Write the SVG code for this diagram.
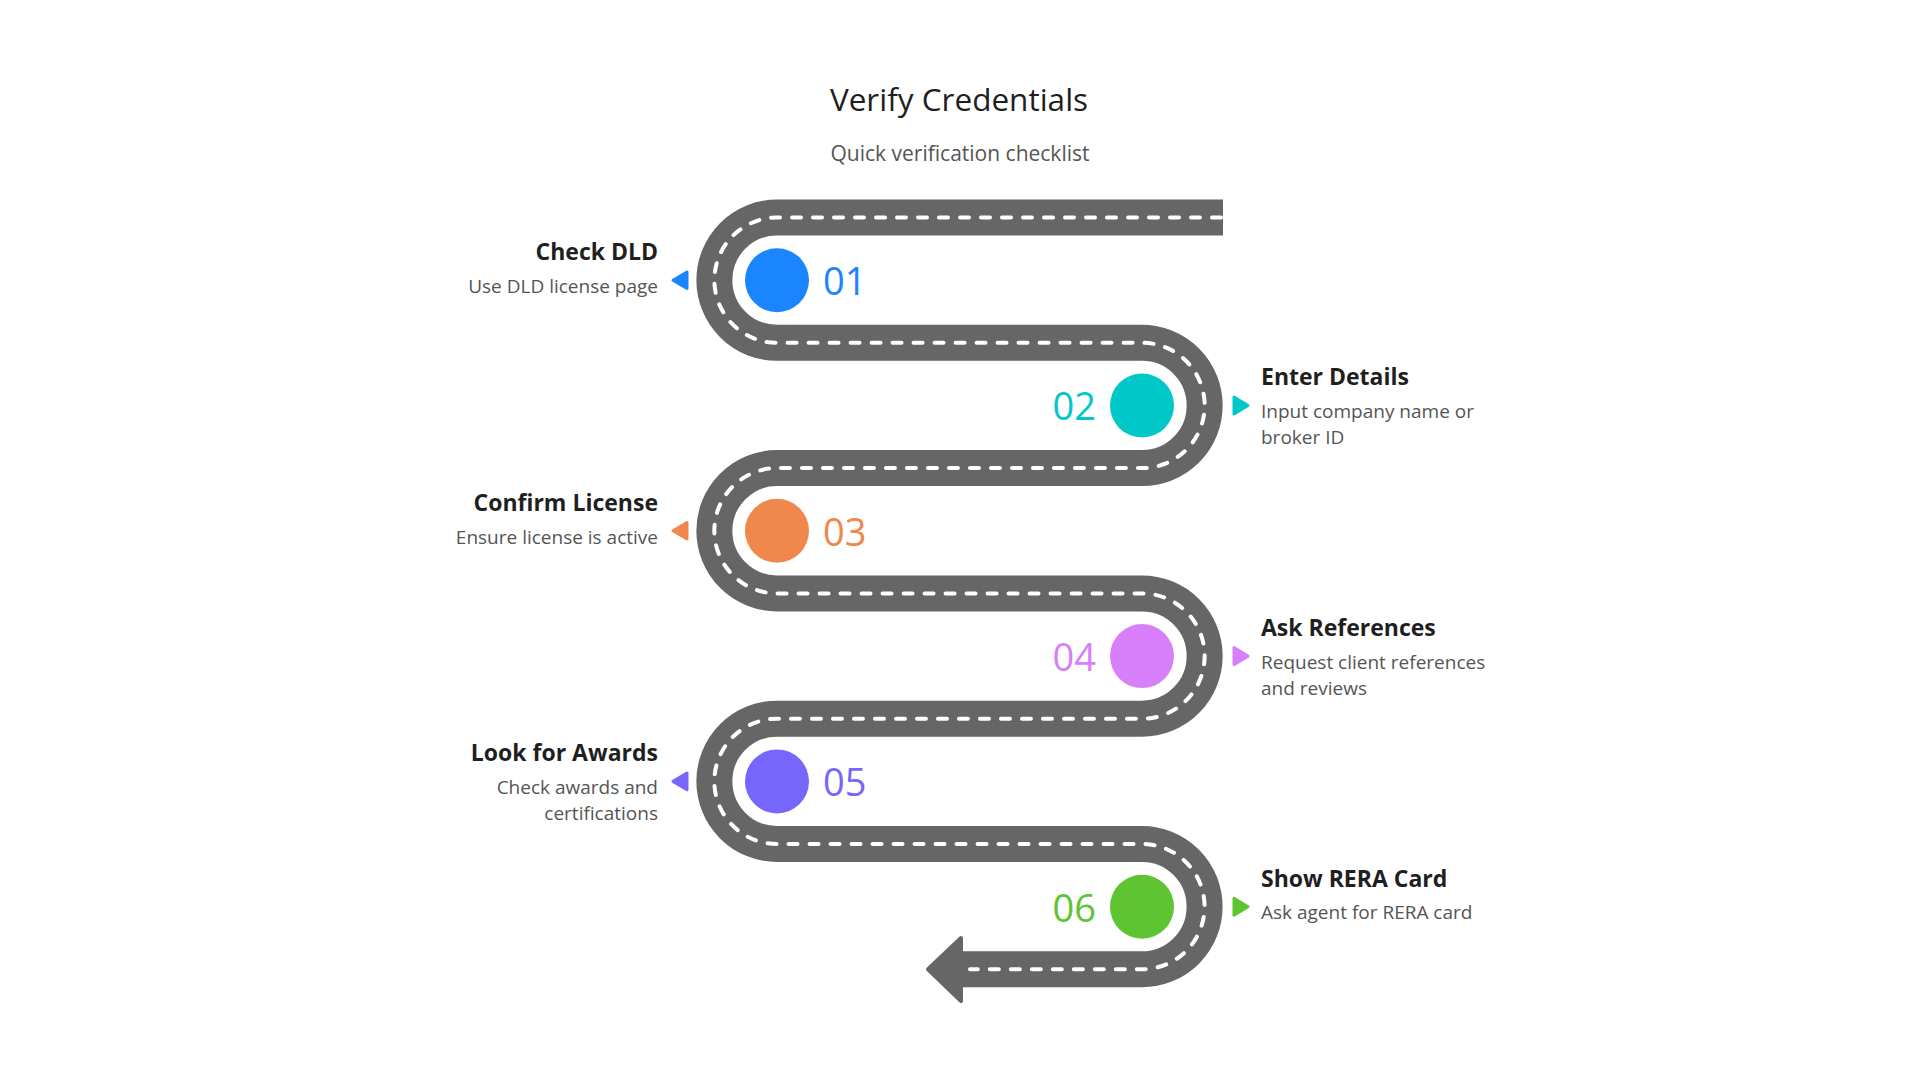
<svg xmlns="http://www.w3.org/2000/svg" width="1920" height="1080" viewBox="0 0 1920 1080">
<style>
text{font-family:"Open Sans","Noto Sans",sans-serif}
.title{font-size:31.5px;fill:#1f1f1f;text-anchor:middle}
.sub{font-size:21px;fill:#555;text-anchor:middle}
.h{font-size:23px;font-weight:700;fill:#1f1f1f}
.d{font-size:19px;fill:#555}
.num{font-size:38px}
.l{text-anchor:end}
.r{text-anchor:start}
.road{fill:none;stroke:#666;stroke-width:36}
.dash{fill:none;stroke:#fff;stroke-width:4;stroke-dasharray:9 12;stroke-linecap:round}
.tri{stroke-width:3;stroke-linejoin:round}
</style>
<rect width="1920" height="1080" fill="#fff"/>
<text class="title" x="959" y="111">Verify Credentials</text>
<text class="sub" x="960" y="161">Quick verification checklist</text>
<g id="road">
<path class="road" d="M 1223 217.5 H 777 A 62.65 62.65 0 0 0 777 342.8 H 1142 A 62.65 62.65 0 0 1 1142 468.1 H 777 A 62.65 62.65 0 0 0 777 593.4 H 1142 A 62.65 62.65 0 0 1 1142 718.7 H 777 A 62.65 62.65 0 0 0 777 844 H 1142 A 62.65 62.65 0 0 1 1142 969.3 H 960"/>
<path d="M 961 938 L 928 969.3 L 961 1001 Z" fill="#666" stroke="#666" stroke-width="4" stroke-linejoin="round"/>
<path class="dash" d="M 1221 217.5 H 777 A 62.65 62.65 0 0 0 777 342.8 H 1142 A 62.65 62.65 0 0 1 1142 468.1 H 777 A 62.65 62.65 0 0 0 777 593.4 H 1142 A 62.65 62.65 0 0 1 1142 718.7 H 777 A 62.65 62.65 0 0 0 777 844 H 1142 A 62.65 62.65 0 0 1 1142 969.3 H 970"/>
</g>
<g id="step1">
<circle cx="777" cy="280.2" r="32" fill="#1a85ff"/>
<text class="num r" x="823" y="295" fill="#1a85ff">01</text>
<path class="tri" d="M 687 272 L 673 280.2 L 687 288.5 Z" fill="#1a85ff" stroke="#1a85ff"/>
<text class="h l" x="658" y="260">Check DLD</text>
<text class="d l" x="658" y="293">Use DLD license page</text>
</g>
<g id="step2">
<circle cx="1142" cy="405.5" r="32" fill="#00c8c8"/>
<text class="num l" x="1096" y="420" fill="#00c8c8">02</text>
<path class="tri" d="M 1234 397 L 1248 405.5 L 1234 414 Z" fill="#00c8c8" stroke="#00c8c8"/>
<text class="h r" x="1261" y="385">Enter Details</text>
<text class="d r" x="1261" y="418">Input company name or</text>
<text class="d r" x="1261" y="444">broker ID</text>
</g>
<g id="step3">
<circle cx="777" cy="530.8" r="32" fill="#f0884d"/>
<text class="num r" x="823" y="545.5" fill="#f0884d">03</text>
<path class="tri" d="M 687 522.5 L 673 530.8 L 687 539 Z" fill="#f0884d" stroke="#f0884d"/>
<text class="h l" x="658" y="510.5">Confirm License</text>
<text class="d l" x="658" y="543.5">Ensure license is active</text>
</g>
<g id="step4">
<circle cx="1142" cy="656.1" r="32" fill="#d77ffa"/>
<text class="num l" x="1096" y="670.5" fill="#d77ffa">04</text>
<path class="tri" d="M 1234 647.6 L 1248 656.1 L 1234 664.6 Z" fill="#d77ffa" stroke="#d77ffa"/>
<text class="h r" x="1261" y="636">Ask References</text>
<text class="d r" x="1261" y="669">Request client references</text>
<text class="d r" x="1261" y="695">and reviews</text>
</g>
<g id="step5">
<circle cx="777" cy="781.4" r="32" fill="#7766fb"/>
<text class="num r" x="823" y="796" fill="#7766fb">05</text>
<path class="tri" d="M 687 773 L 673 781.4 L 687 789.8 Z" fill="#7766fb" stroke="#7766fb"/>
<text class="h l" x="658" y="761">Look for Awards</text>
<text class="d l" x="658" y="794">Check awards and</text>
<text class="d l" x="658" y="820">certifications</text>
</g>
<g id="step6">
<circle cx="1142" cy="906.7" r="32" fill="#5ec431"/>
<text class="num l" x="1096" y="921.5" fill="#5ec431">06</text>
<path class="tri" d="M 1234 898.2 L 1248 906.7 L 1234 915.2 Z" fill="#5ec431" stroke="#5ec431"/>
<text class="h r" x="1261" y="887">Show RERA Card</text>
<text class="d r" x="1261" y="919">Ask agent for RERA card</text>
</g>
</svg>
